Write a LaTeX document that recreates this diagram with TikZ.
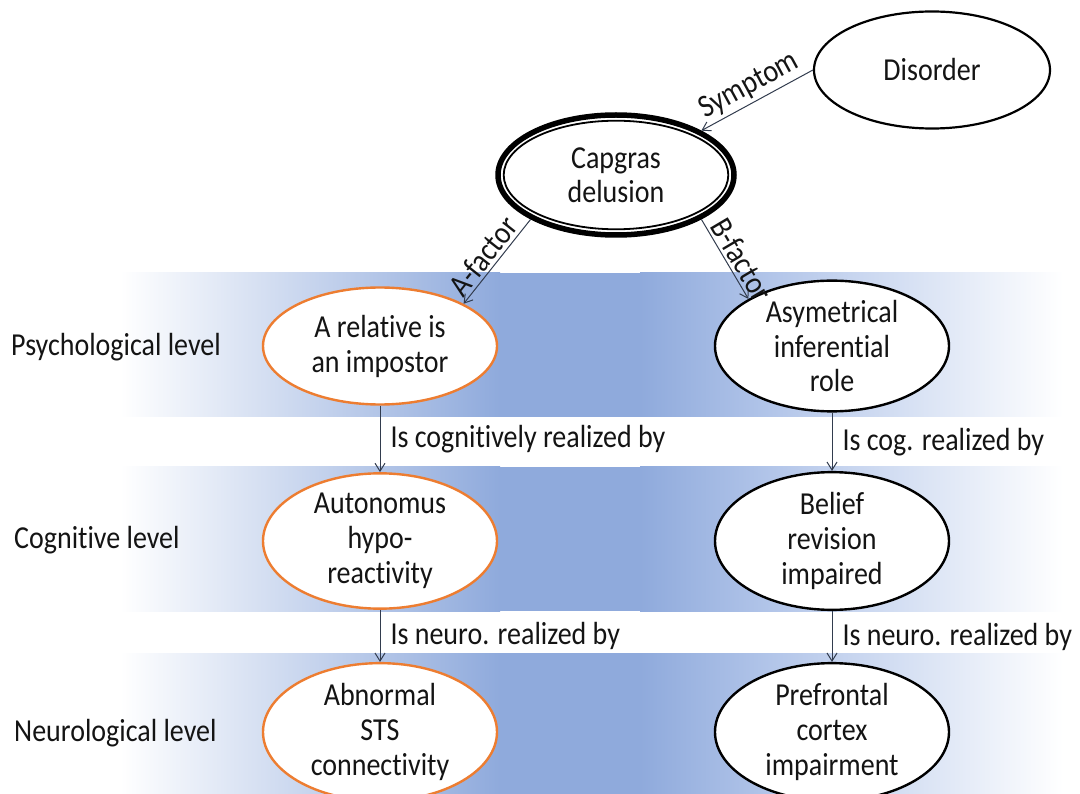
\documentclass[tikz,border=0pt]{standalone}
\usepackage{fontspec}
\setmainfont{Carlito}[FakeStretch=0.875, Ligatures={NoCommon,NoContextual}, RawFeature={-liga;-clig;-calt;-dlig}]
\usetikzlibrary{shapes.geometric,arrows.meta}
\definecolor{bandblue}{RGB}{143,170,220}
\definecolor{bandlight}{RGB}{178,197,233}
\definecolor{orangeE}{RGB}{237,125,49}
\definecolor{linec}{RGB}{50,60,78}
\begin{document}
\begin{tikzpicture}[x=1pt,y=-1pt,
  ell/.style={ellipse, draw, line width=2.4pt, fill=white, inner sep=0pt,
    minimum width=234pt, minimum height=117pt, align=center,
    font=\fontsize{32}{35}\selectfont, text=black!92},
  orng/.style={ell, draw=orangeE},
  blk/.style={ell, draw=black},
  tall/.style={minimum height=122pt},
  arr/.style={draw=linec, line width=1pt, -{Straight Barb[length=8pt,width=10pt]}},
  lbl/.style={font=\fontsize{32}{35}\selectfont, text=black!92, inner sep=1pt},
  slbl/.style={lbl, sloped, above, inner sep=3pt}]
\useasboundingbox (0,0) rectangle (1080,794);
\clip (0,0) rectangle (1080,794);
% bands
\foreach \a/\b in {273/417,467/611,653/800}{
  \shade[left color=white, right color=bandblue] (120,\a) rectangle (500,\b);
  \fill[bandblue] (499.5,\a) rectangle (640.5,\b);
  \shade[left color=bandblue, right color=bandlight] (640,\a) rectangle (770,\b);
  \shade[left color=bandlight, right color=white] (769.5,\a) rectangle (1063,\b);
}
% nodes
\node[ell, draw=black, line width=2.2pt, minimum width=236pt, minimum height=117pt] (disorder) at (932,70) {Disorder};
\node[ellipse, draw=black, line width=5.5pt, fill=white, inner sep=0pt,
  minimum width=236pt, minimum height=120pt, align=center,
  font=\fontsize{32}{34}\selectfont, text=black!92] (capgras) at (616,175) {Capgras\\delusion};
\draw[line width=1.8pt] (capgras.center) ellipse [x radius=112.3pt, y radius=54.3pt];

\node[orng] (n11) at (380,346) {A relative is\\an impostor};
\node[blk] (n12) at (832,346) {Asymetrical\\inferential\\role};
\node[orng, tall] (n21) at (380,541) {Autonomus\\hypo-\\reactivity};
\node[blk, tall] (n22) at (832,541) {Belief\\revision\\impaired};
\node[orng, tall] (n31) at (380,732) {Abnormal\\STS\\connectivity};
\node[blk, tall] (n32) at (832,732) {Prefrontal\\cortex\\impairment};

% level labels
\node[lbl, anchor=west] (lp) at (10,347) {Psychological level};
\node[lbl, anchor=west] (lc) at (13,540) {Cognitive level};
\node[lbl, anchor=west] (ln) at (13,733) {Neurological level};

% connectors
\draw[arr] (disorder.west) -- node[slbl] {Symptom} (capgras.north east);
\draw[arr] (capgras.south west) -- node[slbl, pos=0.54] {A-factor} (n11.north east);
\draw[arr] (capgras.south east) -- node[slbl, pos=0.6] {B-factor} (n12.north west);
\draw[arr] (n11) -- node[lbl, right, xshift=9pt] {Is cognitively realized by} (n21);
\draw[arr] (n12) -- node[lbl, right, xshift=9pt] {Is cog. realized by} (n22);
\draw[arr] (n21) -- node[lbl, right, xshift=9pt] {Is neuro. realized by} (n31);
\draw[arr] (n22) -- node[lbl, right, xshift=9pt] {Is neuro. realized by} (n32);
\end{tikzpicture}
\end{document}
